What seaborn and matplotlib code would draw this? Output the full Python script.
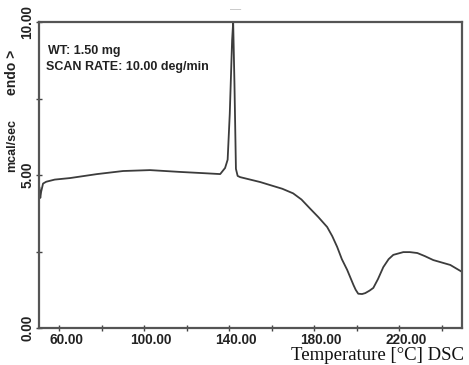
import matplotlib
matplotlib.use("Agg")
import matplotlib.pyplot as plt
import matplotlib.transforms as mtransforms
import seaborn as sns
import pandas as pd

# Temperature (°C) and heat flow (mcal/sec)
temperature = [50.8, 51.2, 51.6, 52.5, 54.0, 58.0, 65.2, 77.9, 90.1, 102.8,
               117.0, 128.0, 135.8, 138.1, 139.3, 140.3, 141.4, 141.9, 142.5,
               143.2, 144.0, 145.2, 154.6, 159.3, 165.0, 170.1, 174.0, 178.1,
               182.0, 186.1, 188.5, 190.8, 193.0, 195.5, 198.5, 199.5, 200.7,
               202.5, 204.0, 206.0, 207.8, 210.0, 212.5, 215.0, 217.2, 221.9,
               225.0, 228.5, 232.0, 236.0, 244.0, 249.6]
heat_flow = [4.60, 4.25, 4.45, 4.72, 4.78, 4.85, 4.90, 5.03, 5.13, 5.16,
             5.10, 5.06, 5.03, 5.23, 5.50, 7.00, 9.40, 10.00, 8.00,
             5.20, 4.97, 4.93, 4.77, 4.67, 4.55, 4.40, 4.20, 3.90,
             3.62, 3.30, 3.00, 2.65, 2.25, 1.90, 1.40, 1.25, 1.12,
             1.11, 1.14, 1.22, 1.31, 1.60, 1.99, 2.25, 2.39, 2.48,
             2.48, 2.45, 2.35, 2.22, 2.06, 1.83]

x_major = [60, 100, 140, 180, 220]
x_minor = [80, 120, 160, 200, 240]
y_major = [0, 5, 10]
y_minor = [2.5, 7.5]
x_labels = ["60.00", "100.00", "140.00", "180.00", "220.00"]
y_labels = ["0.00", "5.00", "10.00"]

df = pd.DataFrame({"T": temperature, "Q": heat_flow})

sns.set_style("white")
plt.rcParams["font.family"] = ["Liberation Sans", "DejaVu Sans"]

fig = plt.figure(figsize=(4.69, 3.65), dpi=100)
ax = fig.add_axes([39 / 469, 37 / 365, (462 - 39) / 469, (328 - 22) / 365])

sns.lineplot(data=df, x="T", y="Q", ax=ax, color="#3c3c3c", linewidth=1.3,
             sort=False, estimator=None)

ax.set_xlim(50.6, 249.5)
ax.set_ylim(0, 10)

ax.set_xticks(x_major)
ax.set_xticks(x_minor, minor=True)
ax.set_xticklabels(x_labels, fontsize=9.8, fontweight="bold", color="#222222")
ax.set_yticks(y_major)
ax.set_yticks(y_minor, minor=True)
ax.set_yticklabels(y_labels, fontsize=9.8, fontweight="bold", color="#222222",
                   rotation=90, va="center")

ax.tick_params(axis="both", which="both", direction="inout", length=5,
               width=1.0, color="#444444", bottom=True, left=True,
               top=False, right=False)
ax.tick_params(axis="x", which="major", pad=1)
ax.tick_params(axis="y", which="major", pad=1)

# shift x tick labels slightly to the right as in the reference
offset = mtransforms.ScaledTranslation(7 / 100, 0, fig.dpi_scale_trans)
for lab in ax.get_xticklabels():
    lab.set_transform(lab.get_transform() + offset)

for sp in ax.spines.values():
    sp.set_color("#555555")
    sp.set_linewidth(1.6)

ax.set_xlabel("")
ax.set_ylabel("")

ax.text(0.022, 0.905, "WT: 1.50 mg", transform=ax.transAxes, fontsize=9,
        fontweight="bold", va="center", ha="left", color="#222222")
ax.text(0.017, 0.853, "SCAN RATE: 10.00 deg/min", transform=ax.transAxes,
        fontsize=9, fontweight="bold", va="center", ha="left", color="#222222")

fig.text(12 / 469, 1 - 146 / 365, "mcal/sec", rotation=90, fontsize=9,
         fontweight="bold", ha="center", va="center", color="#222222")
fig.text(12 / 469, 1 - 72 / 365, "endo >", rotation=90, fontsize=10,
         fontweight="bold", ha="center", va="center", color="#222222")

fig.text(464 / 469, 1 - 356 / 365, "Temperature [°C] DSC",
         family=["Liberation Serif", "DejaVu Serif"], fontsize=13.5,
         ha="right", va="center", color="#111111")

fig.text(236 / 469, 1 - 9 / 365, "—", fontsize=8, color="#bbbbbb",
         ha="center", va="center")

fig.savefig("out.png", dpi=100)
